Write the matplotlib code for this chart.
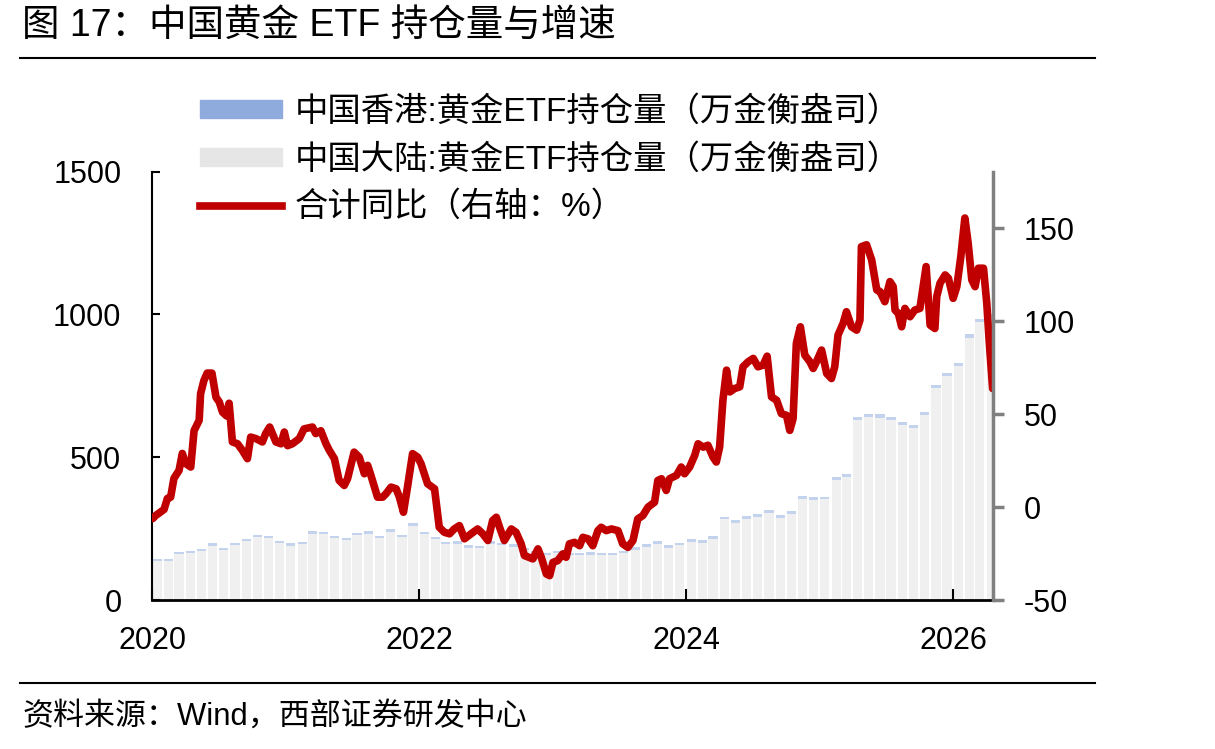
import pandas as pd
import matplotlib
matplotlib.use('Agg')
import matplotlib.pyplot as plt
import matplotlib.dates as mdates
from matplotlib.patches import Patch
from matplotlib.lines import Line2D

cjk = ['Liberation Sans', 'Noto Sans CJK SC']
plt.rcParams['font.family'] = cjk
plt.rcParams['axes.unicode_minus'] = False

# monthly holdings (万金衡盎司), Jan 2020 .. Apr 2026
months = pd.date_range('2020-01-01', '2026-04-01', freq='MS') + pd.Timedelta(days=14)
mainland = [138, 138, 161, 164, 172, 190, 174, 192, 205, 220, 217, 199,
            190, 196, 232, 230, 217, 209, 228, 231, 216, 239, 219, 259,
            230, 212, 195, 196, 183, 181, 196, 191, 186, 174, 163, 157,
            163, 156, 157, 159, 157, 157, 163, 176, 187, 196, 183, 192,
            204, 201, 215, 282, 270, 285, 292, 305, 288, 300, 355, 350,
            352, 420, 430, 629, 641, 639, 629, 614, 601, 649, 741, 784,
            818, 918, 973, 988]
hongkong = [7, 7, 8, 8, 8, 8, 8, 8, 8, 8, 8, 8,
            8, 8, 8, 8, 8, 8, 8, 9, 9, 9, 9, 9,
            9, 9, 9, 9, 9, 9, 9, 9, 9, 9, 9, 9,
            9, 9, 9, 9, 9, 9, 9, 9, 9, 9, 9, 9,
            9, 9, 10, 10, 10, 10, 10, 10, 10, 10, 10, 10,
            10, 10, 10, 11, 11, 11, 11, 11, 11, 11, 11, 11,
            12, 12, 12, 12]

# total yoy (%), right axis
yoy_dates = ['2020-01-03', '2020-01-11', '2020-02-03', '2020-02-12', '2020-02-21', '2020-03-01',
             '2020-03-15', '2020-03-24', '2020-04-02', '2020-04-16', '2020-04-25', '2020-05-09',
             '2020-05-13', '2020-05-22', '2020-05-31', '2020-06-13', '2020-06-24', '2020-07-03',
             '2020-07-12', '2020-07-23', '2020-07-30', '2020-08-08', '2020-08-22', '2020-09-04',
             '2020-09-18', '2020-09-27', '2020-10-11', '2020-10-29', '2020-11-07', '2020-11-18',
             '2020-12-05', '2020-12-19', '2020-12-28', '2021-01-06', '2021-01-19', '2021-02-07',
             '2021-02-20', '2021-03-15', '2021-03-24', '2021-04-07', '2021-04-21', '2021-04-30',
             '2021-05-14', '2021-05-27', '2021-06-10', '2021-06-19', '2021-07-07', '2021-07-21',
             '2021-08-04', '2021-08-13', '2021-08-22', '2021-09-09', '2021-09-23', '2021-10-02',
             '2021-10-16', '2021-10-30', '2021-11-08', '2021-11-19', '2021-11-30', '2021-12-14',
             '2021-12-28', '2022-01-06', '2022-01-24', '2022-02-12', '2022-02-25', '2022-03-11',
             '2022-03-25', '2022-04-07', '2022-04-21', '2022-05-05', '2022-05-23', '2022-06-10',
             '2022-06-24', '2022-07-08', '2022-07-21', '2022-07-31', '2022-08-09', '2022-08-22',
             '2022-09-10', '2022-09-23', '2022-10-07', '2022-10-16', '2022-11-08', '2022-11-22',
             '2022-12-01', '2022-12-15', '2022-12-24', '2023-01-02', '2023-01-15', '2023-01-29',
             '2023-02-07', '2023-02-16', '2023-03-02', '2023-03-16', '2023-03-25', '2023-04-08',
             '2023-04-21', '2023-05-05', '2023-05-14', '2023-05-28', '2023-06-11', '2023-06-29',
             '2023-07-12', '2023-07-26', '2023-08-09', '2023-08-22', '2023-09-05', '2023-09-19',
             '2023-10-07', '2023-10-16', '2023-10-26', '2023-11-08', '2023-11-17', '2023-12-06',
             '2023-12-19', '2023-12-28', '2024-01-11', '2024-01-25', '2024-02-03', '2024-02-17',
             '2024-03-01', '2024-03-15', '2024-03-24', '2024-04-02', '2024-04-11', '2024-04-21',
             '2024-04-30', '2024-05-13', '2024-05-27', '2024-06-05', '2024-06-19', '2024-07-03',
             '2024-07-16', '2024-07-30', '2024-08-10', '2024-08-22', '2024-09-05', '2024-09-18',
             '2024-10-02', '2024-10-11', '2024-10-20', '2024-10-29', '2024-11-09', '2024-11-21',
             '2024-12-05', '2024-12-14', '2024-12-23', '2025-01-06', '2025-01-20', '2025-02-02',
             '2025-02-11', '2025-02-20', '2025-03-06', '2025-03-15', '2025-03-29', '2025-04-12',
             '2025-04-21', '2025-04-25', '2025-05-09', '2025-05-23', '2025-06-06', '2025-06-15',
             '2025-06-28', '2025-07-12', '2025-07-21', '2025-07-26', '2025-08-04', '2025-08-13',
             '2025-08-22', '2025-09-05', '2025-09-18', '2025-10-02', '2025-10-19', '2025-10-30',
             '2025-11-12', '2025-11-17', '2025-11-26', '2025-12-10', '2025-12-19', '2026-01-01',
             '2026-01-11', '2026-01-22', '2026-02-02', '2026-02-11', '2026-02-21', '2026-03-02',
             '2026-03-11', '2026-03-25', '2026-04-03', '2026-04-10', '2026-04-19']
yoy_values = [-6.2, -4.6, -1.3, 4.6, 5.3, 15.4, 19.7, 28.8, 23.4, 21.5, 41, 46.6,
              61, 68, 72, 72, 59, 56.5, 51, 49, 55.8, 35, 34, 30.5,
              26, 37.6, 36.8, 35, 39.5, 43, 35, 34, 40.3, 33, 34, 36.8,
              42, 43, 39.5, 41, 34, 30.5, 26, 14.3, 11.6, 15.2, 29.5, 26.8,
              17.9, 22.4, 17, 5.3, 5.3, 7.1, 10.7, 9.8, 5.3, -2.8, 10.7, 28.7,
              26.8, 23.3, 12.5, 9.8, -10.9, -13.6, -14.4, -11.8, -10, -17.1, -14.4, -11.8,
              -14.4, -18, -7.3, -5.5, -10.9, -18, -11.8, -13.6, -19.8, -26.1, -27.9, -22.5,
              -27, -36, -36.9, -29.8, -28.8, -25.2, -27, -19.8, -19, -20.8, -16.3, -17.1,
              -20.8, -12.7, -10.9, -12.7, -11.8, -12.7, -19.8, -21.7, -18, -6.4, -4.6, -0.1,
              2.6, 14.3, 15.2, 8.9, 15.2, 17, 21.5, 17.9, 21.5, 27.8, 34, 32.2,
              33.2, 26.8, 24.2, 32.2, 57.4, 73.6, 61.9, 63.7, 64.6, 75.4, 78.1, 79.9,
              75.4, 76.3, 81.1, 59.2, 57.4, 50.2, 49.3, 41.2, 47.5, 88, 96.9, 81.7,
              78.1, 74.5, 78.1, 84.4, 71.8, 69.1, 75.4, 92.5, 98.8, 105, 96.9, 95.1,
              100.5, 140, 141, 132.9, 116.7, 115.8, 110.4, 121.2, 118.5, 105.9, 104.1, 96.9,
              106.8, 102.3, 105.9, 106.8, 129.3, 97.8, 96, 113.1, 120.3, 124.8, 123, 112.2,
              118.5, 134.7, 155.4, 141.9, 122.1, 118.5, 128.4, 128.4, 109.5, 88, 63.7]

hk_label = '中国香港:黄金ETF持仓量（万金衡盎司）'
ml_label = '中国大陆:黄金ETF持仓量（万金衡盎司）'
yoy_label = '合计同比（右轴：%）'

fig = plt.figure(figsize=(12.15, 7.49), dpi=100)
ax = fig.add_axes([152/1215, 1-600/749, (993-152)/1215, (600-171.7)/749])

ax.bar(months, mainland, width=25, color='#f0f0f0', linewidth=0)
ax.bar(months, hongkong, bottom=mainland, width=25, color='#c3d3ee', linewidth=0)
ax.set_ylim(0, 1500)
ax.set_yticks([0, 500, 1000, 1500])
ax.set_xlim(pd.Timestamp('2020-01-01'), pd.Timestamp('2026-04-20'))
ax.xaxis.set_major_locator(mdates.YearLocator(2))
ax.xaxis.set_major_formatter(mdates.DateFormatter('%Y'))
ax.tick_params(axis='y', direction='in', length=6, width=1.5, labelsize=22, pad=22)
ax.tick_params(axis='x', direction='in', length=8, width=1.5, labelsize=22, pad=19)
for s in ['top', 'right']:
    ax.spines[s].set_visible(False)
ax.spines['left'].set_linewidth(1.5)
ax.spines['bottom'].set_linewidth(2)

ax2 = ax.twinx()
ax2.plot(pd.to_datetime(yoy_dates), yoy_values, color='#c00000', linewidth=5.5,
         solid_joinstyle='round', solid_capstyle='round')
ax2.set_ylim(-50, 180.3)
ax2.set_yticks([-50, 0, 50, 100, 150])
for s in ['top', 'left', 'bottom']:
    ax2.spines[s].set_visible(False)
ax2.spines['right'].set_color('#808080')
ax2.spines['right'].set_linewidth(2.5)
ax2.tick_params(axis='y', direction='out', length=8, width=2.5, color='#808080',
                labelsize=22, pad=14)
ax2.set_xlim(pd.Timestamp('2020-01-01'), pd.Timestamp('2026-04-20'))

handles = [Patch(color='#8faadc', label=hk_label),
           Patch(color='#e6e6e6', label=ml_label),
           Line2D([], [], color='#c00000', linewidth=5.5, label=yoy_label)]
fig.legend(handles=handles, loc='upper left', bbox_to_anchor=(200/1215, 1-96/749),
           frameon=False, fontsize=24, handlelength=2.45, handleheight=0.45,
           handletextpad=0.4, labelspacing=0.48, borderpad=0, borderaxespad=0)

fig.text(22/1215, 1-26/749, '图 17：中国黄金 ETF 持仓量与增速', fontsize=27, va='center')
fig.text(22/1215, 1-717/749, '资料来源：Wind，西部证券研发中心', fontsize=22.3, va='center')
fig.add_artist(Line2D([20/1215, 1095/1215], [1-58/749, 1-58/749],
                      transform=fig.transFigure, color='black', linewidth=1.5))
fig.add_artist(Line2D([20/1215, 1095/1215], [1-683/749, 1-683/749],
                      transform=fig.transFigure, color='black', linewidth=1.5))

fig.savefig('out.png', dpi=100)
